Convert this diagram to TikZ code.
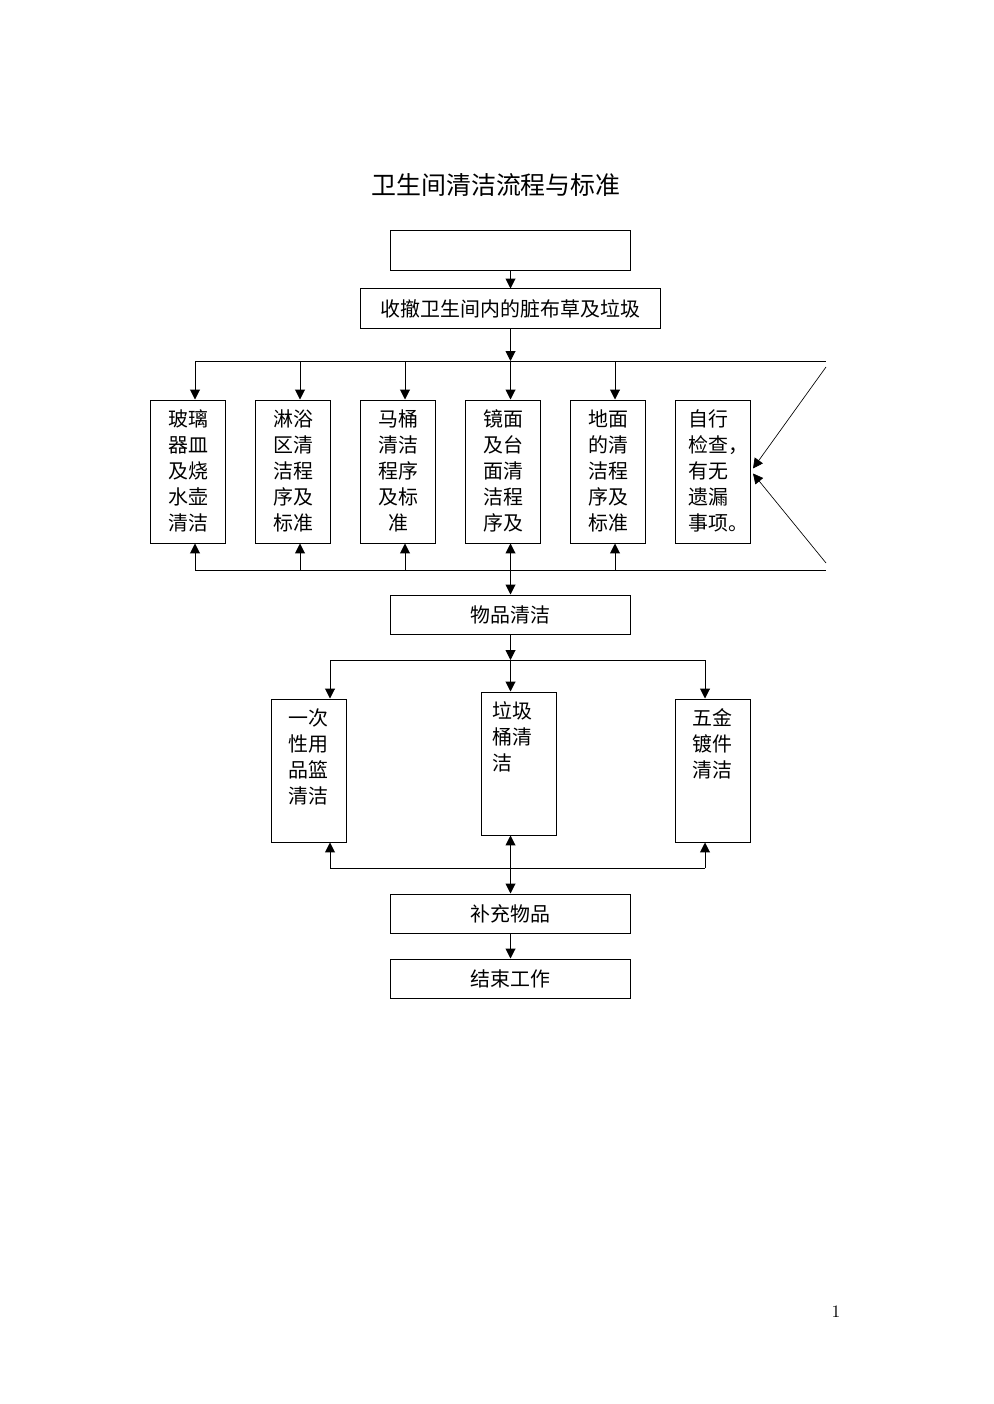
\documentclass[tikz,border=0pt]{standalone}
\usepackage{fontspec}
\newfontfamily\cjk{Noto Sans CJK SC}
\usetikzlibrary{positioning}
\usetikzlibrary{calc}
\usetikzlibrary{arrows.meta}

\begin{document}
\begin{tikzpicture}[x=0.02115cm,y=-0.02115cm,line width=0.6pt,
  widebox/.style={draw,minimum width=5.076cm,minimum height=0.825cm,inner sep=0pt,
    font=\cjk\fontsize{12pt}{15.6pt}\selectfont},
  tallbox/.style={draw,minimum width=1.586cm,minimum height=3.024cm,inner sep=0pt},
  boxtext/.style={inner sep=0pt,align=center,font=\cjk\fontsize{12pt}{15.6pt}\selectfont},
  arr/.style={-{Triangle[width=6pt,length=6pt]}}]
  \useasboundingbox (0,0) rectangle (993,1404);

  % Title
  \node[font=\cjk\fontsize{15pt}{18pt}\selectfont] (title) at (496,185) {卫生间清洁流程与标准};

  \node[widebox] (start) at (510.5,250.5) {};
  \node[widebox,minimum width=6.345cm] (collect) at (510.5,308.5) {收撤卫生间内的脏布草及垃圾};

  % first row of boxes
  \node[tallbox] (b1) at (188,471.5) {};
  \node[tallbox] (b2) at (293,471.5) {};
  \node[tallbox] (b3) at (398,471.5) {};
  \node[tallbox] (b4) at (503,471.5) {};
  \node[tallbox] (b5) at (608,471.5) {};
  \node[tallbox] (b6) at (713,471.5) {};
  \node[boxtext,below=0.21cm of b1.north] (t1) {玻璃\\器皿\\及烧\\水壶\\清洁};
  \node[boxtext,below=0.21cm of b2.north] (t2) {淋浴\\区清\\洁程\\序及\\标准};
  \node[boxtext,below=0.21cm of b3.north] (t3) {马桶\\清洁\\程序\\及标\\准};
  \node[boxtext,below=0.21cm of b4.north] (t4) {镜面\\及台\\面清\\洁程\\序及};
  \node[boxtext,below=0.21cm of b5.north] (t5) {地面\\的清\\洁程\\序及\\标准};
  \node[boxtext,align=left,below right=0.21cm and 0.27cm of b6.north west] (t6) {自行\\检查，\\有无\\遗漏\\事项。};

  \node[widebox] (goods) at (510.5,614.5) {物品清洁};

  % second row of boxes
  \node[tallbox] (c1) at (308.5,770.5) {};
  \node[tallbox] (c2) at (519,763.5) {};
  \node[tallbox] (c3) at (712.5,770.5) {};
  \node[boxtext,below=0.21cm of c1.north] (s1) {一次\\性用\\品篮\\清洁};
  \node[boxtext,align=left,below right=0.21cm and 0.23cm of c2.north west] (s2) {垃圾\\桶清\\洁};
  \node[boxtext,below=0.21cm of c3.north] (s3) {五金\\镀件\\清洁};

  \node[widebox] (refill) at (510.5,913.5) {补充物品};
  \node[widebox] (finish) at (510.5,978.5) {结束工作};

  \node[font=\fontsize{10.5pt}{12pt}\selectfont] (pageno) at (836,1312) {1};

  % connectors, first part
  \draw[arr] (start) -- (collect);
  \coordinate (bus1) at (510.5,361);
  \draw[arr] (collect) -- (bus1);
  \coordinate (busR) at (826,361);
  \coordinate (bus2) at (510.5,570);
  \coordinate (busR2) at (826,570);
  \foreach \x/\b [count=\i] in {195/b1,300/b2,405/b3,510.5/b4,615/b5} {
    \coordinate (u\i) at (\x,361);
    \coordinate (v\i) at (\x,570);
    \draw[arr] (u\i) -- (u\i |- \b.north);
    \draw[arr] (v\i) -- (v\i |- \b.south);
  }
  \draw (u1) -- (busR);
  \draw (v1) -- (busR2);
  \coordinate (r1) at (826,367);
  \coordinate (r2) at (826,563);
  \draw[arr,line width=0.4pt] (r1) -- ($(b6.east)+(2,-3)$);
  \draw[arr,line width=0.4pt] (r2) -- ($(b6.east)+(2,2)$);
  \draw[arr] (bus2) -- (goods);

  % connectors, second part
  \coordinate (bus3) at (510.5,660);
  \coordinate (bus4) at (510.5,868);
  \draw[arr] (goods) -- (bus3);
  \foreach \x/\b [count=\i] in {330/c1,510.5/c2,705/c3} {
    \coordinate (w\i) at (\x,660);
    \coordinate (z\i) at (\x,868);
    \draw[arr] (w\i) -- (w\i |- \b.north);
    \draw[arr] (z\i) -- (z\i |- \b.south);
  }
  \draw (w1) -- (w3);
  \draw (z1) -- (z3);
  \draw[arr] (bus4) -- (refill);
  \draw[arr] (refill) -- (finish);
\end{tikzpicture}
\end{document}
